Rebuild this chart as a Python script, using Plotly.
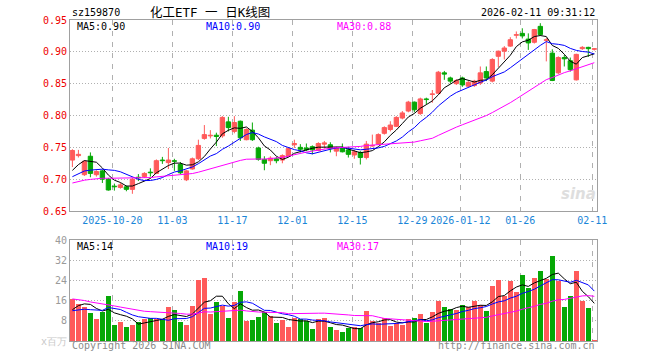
import numpy as np
import pandas as pd
import plotly.graph_objects as go

# ---------------- data ----------------
tick_idx = [7, 17, 27, 37, 47, 57, 65, 75, 87]
tick_labels = ["2025-10-20", "11-03", "11-17", "12-01", "12-15",
               "12-29", "2026-01-12", "01-26", "02-11"]

opens = [0.730, 0.737, 0.707, 0.736, 0.707, 0.713, 0.700, 0.689, 0.687, 0.688,
         0.684, 0.703, 0.704, 0.711, 0.709, 0.730, 0.726, 0.729, 0.723, 0.699,
         0.716, 0.732, 0.764, 0.768, 0.769, 0.768, 0.790, 0.775, 0.791, 0.762,
         0.777, 0.749, 0.731, 0.729, 0.732, 0.730, 0.736, 0.754, 0.750, 0.749,
         0.751, 0.745, 0.755, 0.754, 0.744, 0.749, 0.746, 0.738, 0.742, 0.734,
         0.752, 0.755, 0.772, 0.778, 0.783, 0.796, 0.807, 0.821, 0.803, 0.826,
         0.833, 0.835, 0.867, 0.859, 0.850, 0.859, 0.846, 0.847, 0.851, 0.869,
         0.854, 0.893, 0.901, 0.909, 0.926, 0.929, 0.920, 0.915, 0.940, 0.918,
         0.898, 0.867, 0.891, 0.886, 0.856, 0.905, 0.907, 0.904]
closes = [0.745, 0.739, 0.728, 0.709, 0.712, 0.700, 0.683, 0.688, 0.691, 0.684,
          0.700, 0.702, 0.709, 0.710, 0.729, 0.729, 0.730, 0.728, 0.710, 0.713,
          0.732, 0.753, 0.770, 0.769, 0.767, 0.797, 0.781, 0.789, 0.765, 0.778,
          0.762, 0.731, 0.725, 0.733, 0.729, 0.737, 0.748, 0.756, 0.747, 0.746,
          0.746, 0.756, 0.757, 0.748, 0.749, 0.743, 0.739, 0.743, 0.734, 0.755,
          0.753, 0.770, 0.781, 0.785, 0.797, 0.804, 0.821, 0.809, 0.826, 0.825,
          0.834, 0.868, 0.865, 0.854, 0.855, 0.848, 0.852, 0.854, 0.867, 0.859,
          0.888, 0.901, 0.906, 0.919, 0.927, 0.925, 0.914, 0.935, 0.927, 0.919,
          0.855, 0.891, 0.889, 0.872, 0.896, 0.907, 0.905, 0.905]
highs = [0.747, 0.746, 0.730, 0.742, 0.714, 0.715, 0.702, 0.693, 0.694, 0.690,
         0.702, 0.708, 0.711, 0.717, 0.731, 0.735, 0.749, 0.732, 0.727, 0.714,
         0.734, 0.762, 0.785, 0.777, 0.773, 0.799, 0.798, 0.799, 0.792, 0.780,
         0.789, 0.751, 0.736, 0.736, 0.735, 0.739, 0.749, 0.762, 0.755, 0.756,
         0.753, 0.758, 0.760, 0.758, 0.751, 0.756, 0.751, 0.746, 0.744, 0.760,
         0.770, 0.772, 0.783, 0.791, 0.799, 0.807, 0.823, 0.822, 0.828, 0.828,
         0.840, 0.870, 0.870, 0.861, 0.857, 0.861, 0.854, 0.856, 0.877, 0.877,
         0.890, 0.902, 0.909, 0.923, 0.932, 0.937, 0.929, 0.936, 0.945, 0.922,
         0.904, 0.893, 0.895, 0.891, 0.897, 0.909, 0.908, 0.906]
lows = [0.719, 0.734, 0.705, 0.703, 0.704, 0.694, 0.682, 0.682, 0.685, 0.681,
        0.677, 0.697, 0.702, 0.704, 0.708, 0.724, 0.716, 0.713, 0.708, 0.697,
        0.715, 0.730, 0.762, 0.764, 0.752, 0.765, 0.775, 0.772, 0.760, 0.761,
        0.760, 0.729, 0.714, 0.722, 0.725, 0.725, 0.735, 0.749, 0.742, 0.744,
        0.739, 0.744, 0.748, 0.742, 0.736, 0.742, 0.734, 0.732, 0.723, 0.731,
        0.751, 0.754, 0.770, 0.775, 0.782, 0.794, 0.805, 0.805, 0.801, 0.817,
        0.820, 0.834, 0.856, 0.850, 0.848, 0.845, 0.845, 0.845, 0.848, 0.854,
        0.852, 0.876, 0.888, 0.908, 0.921, 0.921, 0.903, 0.913, 0.925, 0.885,
        0.854, 0.865, 0.877, 0.869, 0.855, 0.903, 0.892, 0.902]
volumes = [16.7, 14.7, 13.3, 11.1, 8.7, 11.6, 18.0, 6.3, 7.6, 5.6,
           6.3, 7.6, 8.7, 9.3, 8.7, 8.7, 13.3, 12.4, 7.7, 6.3,
           13.7, 24.3, 24.9, 10.5, 15.3, 13.7, 9.3, 15.3, 20.0, 8.0,
           8.4, 9.7, 11.3, 10.0, 7.3, 8.4, 5.7, 9.3, 8.7, 8.0,
           4.7, 8.7, 9.2, 5.6, 4.4, 3.6, 5.3, 5.7, 5.3, 12.0,
           8.0, 7.1, 9.3, 6.0, 7.1, 6.4, 8.9, 9.2, 10.8, 7.3,
           11.6, 15.7, 13.6, 12.8, 12.4, 14.4, 13.6, 16.0, 14.4, 12.0,
           21.6, 24.0, 18.0, 23.6, 19.6, 26.0, 20.9, 24.9, 27.6, 24.7,
           33.6, 23.6, 13.6, 18.0, 27.6, 15.7, 12.9, 0.4]

# sessions before the visible window (only feed the moving averages)
prior_close = [0.665, 0.670, 0.672, 0.676, 0.680, 0.685, 0.683, 0.688, 0.690, 0.691,
               0.695, 0.700, 0.703, 0.698, 0.705, 0.700, 0.696, 0.694, 0.697, 0.692,
               0.690, 0.688, 0.695, 0.700, 0.697, 0.694, 0.696, 0.713, 0.721]
prior_volume = [22, 25, 28, 20, 18, 30, 24, 21, 19, 25,
                16, 18, 14, 12, 17, 15, 13, 16, 14, 13,
                12, 10, 13, 11, 12, 6.7, 9.8, 12.1, 16.7]

header_left = "sz159870"
title_text = "化工ETF\u00a0一\u00a0日K线图"
time_text = "2026-02-11 09:31:12"
price_ma_text = ["MA5:0.90", "MA10:0.90", "MA30:0.88"]
vol_ma_text = ["MA5:14", "MA10:19", "MA30:17"]

# ---------------- styling ----------------
RED = "#ff5a5a"
GREEN = "#06a806"
MA_COLORS = ["#000000", "#0000ff", "#ff00ff"]
GRID = "#b0b0b0"
FRAME = "#a0a0a0"
MONO = "DejaVu Sans Mono"

o = np.array(opens); c = np.array(closes); h = np.array(highs); l = np.array(lows)
v = np.array(volumes)
n = len(c)
x = np.arange(n)
up = c >= o

full_close = pd.Series(prior_close + closes)
full_vol = pd.Series(prior_volume + volumes)
ma_p = [full_close.rolling(w).mean().values[-n:] for w in (5, 10, 30)]
ma_v = [full_vol.rolling(w).mean().values[-n:] for w in (5, 10, 30)]

fig = go.Figure()

def wick_xy(mask):
    xs, ys = [], []
    for i in np.where(mask)[0]:
        xs += [i, i, None]
        ys += [l[i], h[i], None]
    return xs, ys

for mask, col in ((up, RED), (~up, GREEN)):
    xs, ys = wick_xy(mask)
    fig.add_trace(go.Scatter(x=xs, y=ys, mode="lines", line=dict(color=col, width=1),
                             xaxis="x", yaxis="y", hoverinfo="skip", showlegend=False))
    fig.add_trace(go.Bar(x=x[mask], y=np.abs(c - o)[mask], base=np.minimum(o, c)[mask],
                         width=0.72, marker=dict(color=col, line=dict(color=col, width=1)),
                         xaxis="x", yaxis="y", showlegend=False))
    fig.add_trace(go.Bar(x=x[mask], y=v[mask], width=0.84,
                         marker=dict(color=col, line=dict(width=0)),
                         xaxis="x2", yaxis="y2", showlegend=False))

for ma, col in zip(ma_p, MA_COLORS):
    fig.add_trace(go.Scatter(x=x, y=ma, mode="lines", line=dict(color=col, width=1),
                             xaxis="x", yaxis="y", showlegend=False, hoverinfo="skip"))
for ma, col in zip(ma_v, MA_COLORS):
    fig.add_trace(go.Scatter(x=x, y=ma, mode="lines", line=dict(color=col, width=1),
                             xaxis="x2", yaxis="y2", showlegend=False, hoverinfo="skip"))

grid_pos = [i - 1 / 3 for i in tick_idx]
xcommon = dict(range=[-0.4, 87.45], showline=True, mirror=True, linecolor=FRAME, linewidth=1,
               showgrid=True, gridcolor=GRID, griddash="5px,6px", gridwidth=1,
               tickvals=grid_pos, ticks="", zeroline=False, automargin=False)

fig.update_layout(
    width=660, height=360,
    margin=dict(l=70, r=63, t=20, b=19, autoexpand=False),
    paper_bgcolor="white", plot_bgcolor="white",
    font=dict(family=MONO, size=10, color="#000"),
    bargap=0, barmode="overlay",
    xaxis=dict(**xcommon, anchor="y", ticktext=tick_labels,
               tickfont=dict(color="#1a86d8", size=10, family=MONO)),
    xaxis2=dict(**xcommon, anchor="y2", matches="x", showticklabels=False),
    yaxis=dict(domain=[0.405, 1], range=[0.65, 0.95],
               tickvals=[0.65, 0.70, 0.75, 0.80, 0.85, 0.90, 0.95],
               ticktext=["0.65", "0.70", "0.75", "0.80", "0.85", "0.90", "0.95"],
               tickfont=dict(color="#ee0000", size=10, family=MONO),
               showline=True, mirror=True, linecolor=FRAME, showgrid=True, gridcolor=GRID,
               griddash="1px,2px", zeroline=False, ticks="", automargin=False),
    yaxis2=dict(domain=[0, 0.3146], range=[0, 40],
                tickvals=[0, 8, 16, 24, 32, 40],
                ticktext=["<span style='color:#c8c8c8'>x百万</span>", "8", "16", "24", "32", "40"],
                tickfont=dict(color="#9a9a9a", size=10, family=MONO),
                showline=True, mirror=True, linecolor=FRAME, showgrid=True, gridcolor=GRID,
                griddash="1px,2px", zeroline=False, ticks="", automargin=False),
)

ann = []
ann.append(dict(text=header_left, x=0, xanchor="left", y=1.022, yanchor="middle"))
ann.append(dict(text=title_text, x=0.2657, xanchor="center", y=1.0249, yanchor="middle",
                font=dict(family="DejaVu Sans Mono, Noto Sans CJK SC", size=12.5, color="#000")))
ann.append(dict(text=time_text, x=1, xanchor="right", y=1.022, yanchor="middle"))
for txt, xp, col in zip(price_ma_text, [0.0095, 0.2548, 0.5023], MA_COLORS):
    ann.append(dict(text=txt, x=xp, xanchor="left", y=0.9813, yanchor="middle",
                    font=dict(family=MONO, size=10, color=col)))
for txt, xp, col in zip(vol_ma_text, [0.0095, 0.2548, 0.5023], MA_COLORS):
    ann.append(dict(text=txt, x=xp, xanchor="left", y=0.2938, yanchor="middle",
                    font=dict(family=MONO, size=10, color=col)))
ann.append(dict(text="Copyright 2026 SINA.COM", x=0, xanchor="left", y=-0.0146, yanchor="middle",
                font=dict(family=MONO, size=10, color="#8a8a8a")))
ann.append(dict(text="http://finance.sina.com.cn", x=1, xanchor="right", y=-0.0146, yanchor="middle",
                font=dict(family=MONO, size=10, color="#8a8a8a")))
ann.append(dict(text="<b><i>sina</i></b>", x=0.964, xanchor="center", y=0.458, yanchor="middle",
                font=dict(family="DejaVu Sans", size=15, color="#dedede")))
for a in ann:
    a.setdefault("font", dict(family=MONO, size=10, color="#000"))
    a.update(xref="paper", yref="paper", showarrow=False)
fig.update_layout(annotations=ann)

# remove the browser's default 8px body margin so the 660x360 figure fills the window
fig.write_html("out.html", config={"displayModeBar": False, "staticPlot": True},
               post_script="document.body.style.margin='0';")
